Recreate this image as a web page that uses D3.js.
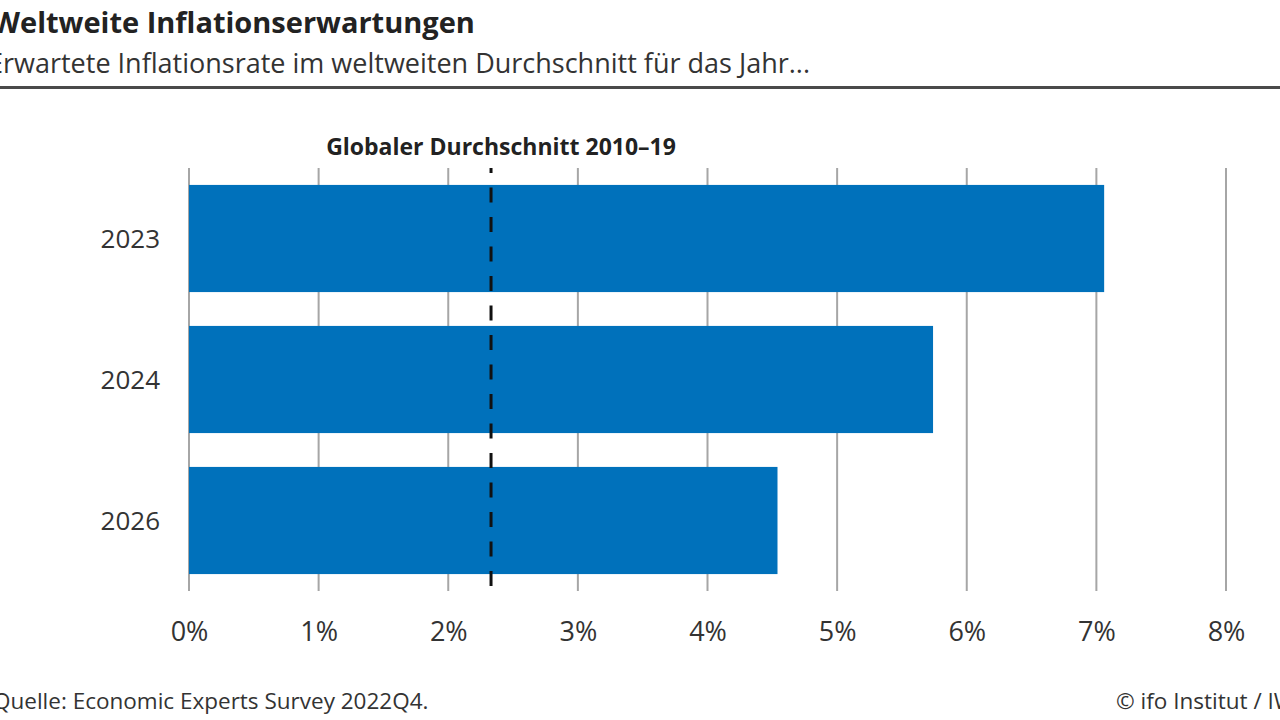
<!DOCTYPE html>
<meta charset="utf-8">
<style>
	body { margin: 0; background: #fff; }
	svg { display: block; font-family: "Open Sans", sans-serif; }
	.tick-label, .year-label { fill: #333; }
</style>
<body>
<svg id="chart"></svg>
<script src="https://cdn.jsdelivr.net/npm/d3@7"></script>
<script>
	// data
	var years = ["2023", "2024", "2026"];
	var inflation = [7.06, 5.74, 4.54];
	var globalAvg = [2.33];
	var xTicks = [0, 1, 2, 3, 4, 5, 6, 7, 8];

	var width = 1280, height = 720;

	var svg = d3.select("#chart")
		.attr("width", width)
		.attr("height", height);

	// header (cropped at the left edge, as in the source image)
	svg.append("text")
		.attr("x", -8).attr("y", 33)
		.style("font-size", "29px").style("font-weight", 700)
		.style("fill", "#222")
		.text("Weltweite Inflationserwartungen");

	svg.append("text")
		.attr("x", -12).attr("y", 73)
		.style("font-size", "27px")
		.style("fill", "#333")
		.text("Erwartete Inflationsrate im weltweiten Durchschnitt für das Jahr...");

	svg.append("rect")
		.attr("x", 0).attr("y", 86)
		.attr("width", width).attr("height", 3)
		.style("fill", "#4a4a4a");

	var x = d3.scaleLinear().domain([0, 8]).range([189, 1226]);
	var y = d3.scaleBand().domain(years).range([168, 591])
		.paddingInner(0.24).paddingOuter(0.12);

	// gridlines
	svg.append("g").selectAll("line")
		.data(xTicks)
		.enter().append("line")
		.attr("x1", function(d) { return x(d); })
		.attr("x2", function(d) { return x(d); })
		.attr("y1", 168).attr("y2", 591)
		.style("stroke", "#a6a6a6")
		.style("stroke-width", 2);

	// bars
	svg.append("g").selectAll("rect")
		.data(years)
		.enter().append("rect")
		.attr("x", x(0))
		.attr("y", function(d) { return y(d); })
		.attr("width", function(d, i) { return x(inflation[i]) - x(0); })
		.attr("height", y.bandwidth())
		.style("fill", "#0071bb");

	// reference line for the 2010-19 average
	svg.append("g").selectAll("line")
		.data(globalAvg)
		.enter().append("line")
		.attr("x1", function(d) { return x(d); })
		.attr("x2", function(d) { return x(d); })
		.attr("y1", 168).attr("y2", 586)
		.style("stroke", "#111")
		.style("stroke-width", 3)
		.style("stroke-dasharray", "15,14.5")
		.style("stroke-dashoffset", 10);

	svg.append("text")
		.attr("x", x(globalAvg[0]) + 10).attr("y", 155)
		.attr("text-anchor", "middle")
		.style("font-size", "23px").style("font-weight", 700)
		.style("fill", "#222")
		.text("Globaler Durchschnitt 2010–19");

	// x axis labels
	var xAxis = d3.axisBottom(x)
		.tickValues(xTicks)
		.tickSize(0)
		.tickPadding(0)
		.tickFormat(function(d) { return d + "%"; });

	var gx = svg.append("g")
		.attr("transform", "translate(0,641)")
		.call(xAxis);
	gx.select(".domain").remove();
	gx.selectAll("text")
		.attr("class", "tick-label")
		.attr("dy", 0)
		.attr("y", 0)
		.style("font-family", "Open Sans, sans-serif")
		.style("font-size", "27px");

	// y labels
	var yAxis = d3.axisLeft(y).tickSize(0).tickPadding(0);
	var gy = svg.append("g")
		.attr("transform", "translate(160,0)")
		.call(yAxis);
	gy.select(".domain").remove();
	gy.selectAll("text")
		.attr("class", "year-label")
		.attr("dy", "0.36em")
		.style("font-family", "Open Sans, sans-serif")
		.style("font-size", "26px");

	// footer
	svg.append("text")
		.attr("x", -7).attr("y", 709)
		.style("font-size", "22.5px")
		.style("fill", "#333")
		.text("Quelle: Economic Experts Survey 2022Q4.");

	svg.append("text")
		.attr("x", 1116).attr("y", 709)
		.style("font-size", "22.5px")
		.style("fill", "#333")
		.text("© ifo Institut / IW");
</script>
</body>
